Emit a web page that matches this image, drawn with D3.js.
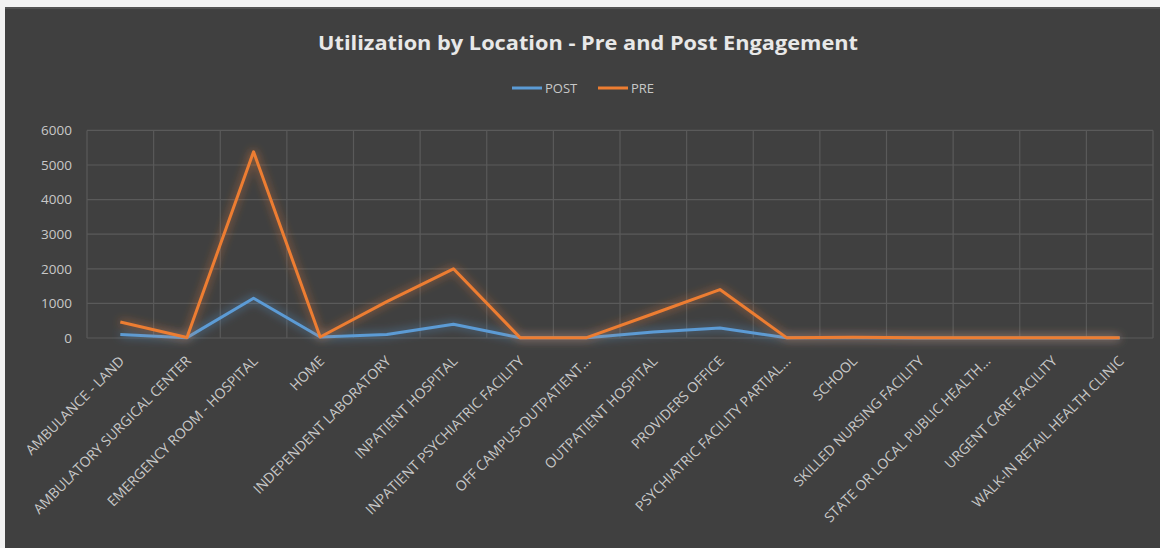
<!DOCTYPE html>
<html><head><meta charset="utf-8">
<script src="https://cdn.jsdelivr.net/npm/d3@7"></script>
<style>html,body{margin:0;padding:0;background:#f2f2f2;}svg{display:block;}</style>
</head><body>
<svg id="c" width="1160" height="548"></svg>
<script>
const categories = ["AMBULANCE - LAND","AMBULATORY SURGICAL CENTER","EMERGENCY ROOM - HOSPITAL","HOME","INDEPENDENT LABORATORY","INPATIENT HOSPITAL","INPATIENT PSYCHIATRIC FACILITY","OFF CAMPUS-OUTPATIENT...","OUTPATIENT HOSPITAL","PROVIDERS OFFICE","PSYCHIATRIC FACILITY PARTIAL...","SCHOOL","SKILLED NURSING FACILITY","STATE OR LOCAL PUBLIC HEALTH...","URGENT CARE FACILITY","WALK-IN RETAIL HEALTH CLINIC"];
const postValues = [100, 10, 1150, 30, 100, 400, 5, 10, 170, 290, 5, 5, 2, 2, 2, 2];
const preValues  = [460, 15, 5380, 30, 1050, 2000, 10, 10, 700, 1400, 10, 20, 10, 5, 5, 5];
const yTicks = [0, 1000, 2000, 3000, 4000, 5000, 6000];
const seriesNames = ["POST", "PRE"];
const seriesColors = ["#5b9bd5", "#ed7d31"];

const svg = d3.select("#c");
const W = 1160, H = 548;
svg.append("rect").attr("x",0).attr("y",0).attr("width",W).attr("height",H).attr("fill","#f2f2f2");
svg.append("rect").attr("x",5).attr("y",7).attr("width",W-5).attr("height",H-7).attr("fill","#404040");
svg.append("rect").attr("x",5).attr("y",7).attr("width",W-5).attr("height",2).attr("fill","#525252");

const defs = svg.append("defs");
seriesColors.forEach((c,i)=>{
  const f = defs.append("filter").attr("id","glow"+i).attr("x","-20%").attr("y","-50%").attr("width","140%").attr("height","200%");
  f.append("feGaussianBlur").attr("in","SourceGraphic").attr("stdDeviation",5).attr("result","b");
  f.append("feComponentTransfer").attr("in","b").attr("result","b2")
    .append("feFuncA").attr("type","linear").attr("slope",0.8);
  const m = f.append("feMerge");
  m.append("feMergeNode").attr("in","b2");
  m.append("feMergeNode").attr("in","SourceGraphic");
});

const x = d3.scaleBand().domain(categories).range([87,1153]).padding(0);
const y = d3.scaleLinear().domain([0,6000]).range([338,130.4]);

// gridlines
const grid = svg.append("g");
grid.selectAll("line.h").data(yTicks).join("line")
  .attr("x1",87).attr("x2",1153).attr("y1",d=>y(d)).attr("y2",d=>y(d))
  .attr("stroke","#5a5a5a").attr("stroke-width",1.2);
const bounds = categories.map(c=>x(c)).concat([x.range()[1]]);
grid.selectAll("line.v").data(bounds).join("line")
  .attr("x1",d=>d).attr("x2",d=>d).attr("y1",y(6000)).attr("y2",y(0))
  .attr("stroke","#5a5a5a").attr("stroke-width",1.2);

// y axis
const yAxis = d3.axisLeft(y).tickValues(yTicks).tickSize(0).tickPadding(0).tickFormat(d3.format("d"));
const gy = svg.append("g").attr("transform","translate(72,0)").call(yAxis);
gy.select(".domain").remove();
gy.selectAll("text").attr("fill","#c8c8c8").attr("font-family","'Open Sans', sans-serif").attr("font-size",13.5);

// x axis
const xAxis = d3.axisBottom(x).tickSize(0).tickPadding(0);
const gx = svg.append("g").attr("transform","translate(0,"+y(0)+")").call(xAxis);
gx.select(".domain").remove();
gx.selectAll("text")
  .attr("fill","#c8c8c8").attr("font-family","'Open Sans', sans-serif").attr("font-size",14)
  .attr("text-anchor","end").attr("dy",0).attr("y",0)
  .attr("transform","translate(5,24) rotate(-45)");

// lines
const line = d3.line().x((d,i)=>x(categories[i])+x.bandwidth()/2).y(d=>y(d));
[postValues, preValues].forEach((vals,i)=>{
  svg.append("path").datum(vals).attr("d",line).attr("fill","none")
    .attr("stroke",seriesColors[i]).attr("stroke-width",3)
    .attr("stroke-linejoin","round").attr("filter","url(#glow"+i+")");
});

// title
svg.append("text").attr("x",588).attr("y",50).attr("text-anchor","middle")
  .attr("fill","#e8e8e8").attr("font-family","'Open Sans', sans-serif").attr("font-weight","bold")
  .attr("font-size",20).attr("textLength",540).attr("lengthAdjust","spacingAndGlyphs")
  .text("Utilization by Location - Pre and Post Engagement");

// legend
const legX = [512, 598];
seriesNames.forEach((n,i)=>{
  const g = svg.append("g").attr("transform","translate("+legX[i]+",88)");
  g.append("line").attr("x1",0).attr("x2",30).attr("y1",0).attr("y2",0)
    .attr("stroke",seriesColors[i]).attr("stroke-width",3);
  g.append("text").attr("x",33).attr("y",4.5).attr("fill","#c8c8c8")
    .attr("font-family","'Open Sans', sans-serif").attr("font-size",13).text(n);
});
</script>
</body></html>
